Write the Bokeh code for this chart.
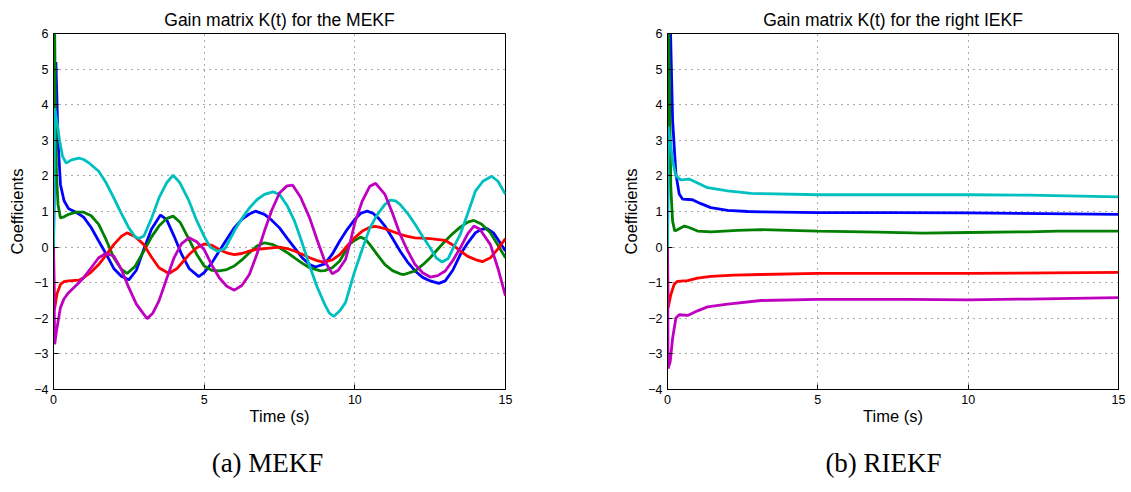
from bokeh.plotting import figure
from bokeh.layouts import row, column
from bokeh.models import Range1d, FixedTicker, Label
from bokeh.embed import file_html
from bokeh.resources import INLINE

# ---------------- data: MEKF ----------------
mekf_blue_t = [0, 0.08, 0.15, 0.23, 0.35, 0.5, 0.75, 1.0, 1.25, 1.5, 1.75, 2.0, 2.25, 2.5, 2.75, 3.0, 3.25, 3.55,
               3.75, 4.0, 4.25, 4.5, 4.82, 5.0, 5.25, 5.5, 5.75, 6.0, 6.25, 6.5, 6.7, 7.0, 7.25, 7.5, 7.75, 8.0, 8.25,
               8.5, 8.69, 9.0, 9.25, 9.5, 9.75, 10.0, 10.2, 10.41, 10.6, 10.8, 11.0, 11.25, 11.5, 11.75, 12.0, 12.25,
               12.5, 12.79, 13.0, 13.25, 13.5, 13.75, 14.0, 14.2, 14.39, 14.6, 14.8, 15.0]
mekf_blue_y = [0, 5.2, 3.0, 1.76, 1.3, 1.08, 0.98, 0.84, 0.55, 0.17, -0.2, -0.6, -0.82, -0.92, -0.65, -0.05, 0.5, 0.9,
               0.78, 0.31, -0.2, -0.6, -0.83, -0.72, -0.45, -0.11, 0.22, 0.54, 0.78, 0.93, 1.01, 0.92, 0.75, 0.54,
               0.25, -0.02, -0.3, -0.49, -0.56, -0.47, -0.2, 0.17, 0.5, 0.78, 0.95, 1.01, 0.95, 0.8, 0.59, 0.25,
               -0.11, -0.42, -0.67, -0.85, -0.95, -1.02, -0.95, -0.65, -0.21, 0.12, 0.4, 0.5, 0.52, 0.4, 0.15, -0.11]

mekf_green_t = [0, 0.02, 0.06, 0.1, 0.15, 0.23, 0.35, 0.5, 0.75, 1.0, 1.25, 1.5, 1.75, 2.0, 2.25, 2.44, 2.7, 3.0,
                3.25, 3.5, 3.75, 3.97, 4.2, 4.5, 4.75, 5.0, 5.25, 5.5, 5.75, 6.0, 6.25, 6.5, 6.75, 7.0, 7.25, 7.5,
                7.75, 8.0, 8.25, 8.5, 8.86, 9.0, 9.25, 9.5, 9.69, 9.85, 10.0, 10.19, 10.35, 10.5, 10.75, 11.0, 11.25,
                11.5, 11.63, 12.0, 12.25, 12.5, 12.75, 13.0, 13.25, 13.5, 13.75, 13.95, 14.2, 14.5, 14.75, 15.0]
mekf_green_y = [0, 8.0, 4.0, 2.0, 1.2, 0.82, 0.85, 0.92, 0.98, 0.98, 0.88, 0.64, 0.2, -0.3, -0.62, -0.74, -0.55,
                -0.11, 0.28, 0.59, 0.8, 0.87, 0.7, 0.21, -0.2, -0.53, -0.65, -0.67, -0.63, -0.53, -0.36, -0.16, 0.03,
                0.12, 0.08, -0.02, -0.15, -0.3, -0.45, -0.58, -0.67, -0.66, -0.58, -0.39, -0.11, 0.1, 0.19, 0.28,
                0.22, 0.07, -0.22, -0.49, -0.66, -0.75, -0.77, -0.67, -0.5, -0.3, -0.06, 0.17, 0.38, 0.56, 0.7, 0.75,
                0.65, 0.4, 0.05, -0.3]

mekf_red_t = [0, 0.03, 0.12, 0.23, 0.35, 0.5, 0.84, 1.0, 1.25, 1.5, 1.75, 2.0, 2.25, 2.44, 2.7, 3.0, 3.25, 3.5,
              3.83, 4.1, 4.5, 4.75, 5.0, 5.25, 5.5, 5.75, 6.0, 6.25, 6.5, 6.75, 7.0, 7.5, 7.75, 8.0, 8.25, 8.5, 8.75,
              8.97, 9.25, 9.5, 9.69, 9.85, 10.0, 10.25, 10.5, 10.69, 11.0, 11.25, 11.5, 11.75, 12.0, 12.5, 13.0,
              13.25, 13.5, 13.75, 14.0, 14.23, 14.5, 14.75, 15.0]
mekf_red_y = [0, -1.75, -1.3, -1.05, -0.97, -0.95, -0.93, -0.86, -0.7, -0.49, -0.22, 0.07, 0.3, 0.4, 0.3, 0.07, -0.28,
              -0.58, -0.74, -0.6, -0.21, -0.02, 0.09, 0.05, -0.07, -0.16, -0.21, -0.18, -0.11, -0.06, -0.04, 0.0,
              -0.04, -0.11, -0.2, -0.3, -0.38, -0.42, -0.36, -0.21, -0.02, 0.13, 0.27, 0.45, 0.56, 0.58, 0.52, 0.44,
              0.36, 0.3, 0.26, 0.24, 0.19, 0.06, -0.11, -0.26, -0.35, -0.41, -0.3, -0.05, 0.24]

mekf_cyan_t = [0, 0.04, 0.1, 0.2, 0.3, 0.42, 0.6, 0.84, 1.0, 1.2, 1.5, 1.75, 2.0, 2.25, 2.5, 2.7, 2.83, 3.0, 3.25,
               3.5, 3.75, 3.97, 4.2, 4.5, 4.75, 5.0, 5.2, 5.45, 5.7, 6.0, 6.25, 6.5, 6.75, 7.0, 7.28, 7.5, 7.75, 8.0,
               8.25, 8.5, 8.75, 9.0, 9.15, 9.3, 9.5, 9.69, 9.85, 10.0, 10.25, 10.5, 10.75, 11.0, 11.18, 11.35, 11.5,
               11.75, 12.0, 12.25, 12.5, 12.7, 12.9, 13.1, 13.25, 13.5, 13.75, 14.0, 14.25, 14.54, 14.75, 15.0]
mekf_cyan_y = [0, 3.9, 3.6, 3.0, 2.55, 2.36, 2.45, 2.5, 2.46, 2.35, 2.13, 1.8, 1.38, 0.95, 0.54, 0.3, 0.24, 0.31, 0.8,
               1.38, 1.8, 2.02, 1.8, 1.29, 0.75, 0.3, 0.0, -0.12, -0.03, 0.45, 0.8, 1.1, 1.33, 1.48, 1.55, 1.48, 1.17,
               0.73, 0.12, -0.53, -1.12, -1.61, -1.85, -1.95, -1.79, -1.56, -1.1, -0.67, -0.05, 0.54, 0.92, 1.2,
               1.32, 1.3, 1.2, 0.95, 0.64, 0.3, -0.02, -0.3, -0.42, -0.32, -0.05, 0.36, 0.95, 1.57, 1.85, 1.99, 1.85,
               1.48]

mekf_magenta_t = [0, 0.04, 0.1, 0.23, 0.35, 0.5, 0.75, 1.0, 1.25, 1.5, 1.73, 2.0, 2.25, 2.5, 2.75, 3.0, 3.11, 3.3,
                  3.5, 3.75, 4.0, 4.25, 4.5, 4.75, 5.0, 5.25, 5.5, 5.75, 6.0, 6.25, 6.5, 6.75, 7.0, 7.25, 7.5, 7.75,
                  7.94, 8.2, 8.5, 8.75, 9.0, 9.25, 9.45, 9.69, 9.85, 10.0, 10.25, 10.5, 10.69, 11.0, 11.25, 11.5, 11.75,
                  12.0, 12.25, 12.5, 12.75, 13.0, 13.25, 13.5, 13.75, 13.95, 14.15, 14.5, 14.75, 15.0]
mekf_magenta_y = [0, -2.73, -2.35, -1.7, -1.45, -1.28, -1.08, -0.86, -0.58, -0.3, -0.18, -0.25, -0.62, -1.14, -1.6,
                  -1.89, -2.01, -1.85, -1.51, -0.9, -0.3, 0.1, 0.26, 0.15, -0.07, -0.5, -0.86, -1.1, -1.21, -1.08,
                  -0.77, -0.2, 0.45, 1.05, 1.52, 1.72, 1.74, 1.4, 0.82, 0.2, -0.39, -0.75, -0.65, -0.35, 0.15, 0.68,
                  1.3, 1.71, 1.79, 1.48, 0.95, 0.36, -0.1, -0.49, -0.72, -0.84, -0.8, -0.67, -0.38, -0.02, 0.38, 0.59,
                  0.5, 0.07, -0.6, -1.37]

# ---------------- data: right IEKF ----------------
riekf_blue_t = [0, 0.06, 0.17, 0.28, 0.39, 0.5, 0.83, 1.11, 1.44, 2.0, 2.67, 3.11, 5.0, 7.5, 10.0, 12.5, 15.0]
riekf_blue_y = [0, 7.5, 3.56, 2.05, 1.49, 1.35, 1.33, 1.22, 1.11, 1.03, 1.0, 0.99, 0.97, 0.97, 0.96, 0.94, 0.92]

riekf_green_t = [0, 0.02, 0.11, 0.17, 0.24, 0.33, 0.56, 0.72, 1.0, 1.44, 2.33, 3.11, 5.0, 7.0, 8.5, 10.0, 12.0, 13.0,
                 15.0]
riekf_green_y = [0, 7.5, 1.67, 0.73, 0.45, 0.49, 0.59, 0.55, 0.45, 0.43, 0.47, 0.49, 0.45, 0.42, 0.39, 0.41, 0.43,
                 0.45, 0.45]

riekf_red_t = [0, 0.02, 0.11, 0.22, 0.33, 0.67, 1.0, 1.44, 2.22, 3.11, 5.0, 10.0, 15.0]
riekf_red_y = [0, -1.71, -1.34, -1.05, -0.96, -0.94, -0.87, -0.82, -0.79, -0.77, -0.74, -0.74, -0.71]

riekf_cyan_t = [0, 0.03, 0.17, 0.28, 0.44, 0.72, 1.0, 1.33, 2.0, 2.78, 3.11, 5.0, 10.0, 12.0, 15.0]
riekf_cyan_y = [0, 3.39, 2.43, 2.0, 1.89, 1.91, 1.8, 1.67, 1.58, 1.51, 1.5, 1.47, 1.47, 1.46, 1.41]

riekf_magenta_t = [0, 0.02, 0.09, 0.17, 0.28, 0.39, 0.67, 1.0, 1.33, 2.0, 3.11, 5.0, 8.0, 10.0, 12.0, 15.0]
riekf_magenta_y = [0, -3.41, -3.22, -2.56, -1.99, -1.9, -1.92, -1.79, -1.68, -1.6, -1.5, -1.47, -1.47, -1.48, -1.46,
                   -1.42]

x_ticks = [0, 5, 10, 15]
y_ticks = [-4, -3, -2, -1, 0, 1, 2, 3, 4, 5, 6]
y_tick_labels = {t: (("\u2212" + str(-t)) if t < 0 else str(t)) for t in y_ticks}

titles = ["Gain matrix K(t) for the MEKF", "Gain matrix K(t) for the right IEKF"]
captions = ["(a) MEKF", "(b) RIEKF"]

COLORS = ["#0000ff", "#008000", "#ff0000", "#00bfbf", "#bf00bf"]
FONT = "Liberation Sans"

FRAME_H = 356
TOP = 33
BOTTOM = 48


def make_fig(title, series, width, border_left, frame_w):
    p = figure(width=width, height=TOP + FRAME_H + BOTTOM, output_backend="svg", toolbar_location=None,
               x_range=Range1d(0, 15), y_range=Range1d(-4, 6),
               min_border_left=border_left, min_border_right=width - border_left - frame_w,
               min_border_top=TOP, min_border_bottom=BOTTOM)
    p.title.text = title
    p.title.align = "center"
    p.title.text_font = FONT
    p.title.text_font_size = "17.5px"
    p.title.text_font_style = "normal"
    p.title.text_color = "black"
    p.title.standoff = 8
    p.outline_line_color = "black"
    p.outline_line_width = 1
    p.outline_line_alpha = 1

    for ax in (p.xaxis[0], p.yaxis[0]):
        ax.axis_line_color = "black"
        ax.major_tick_line_color = "black"
        ax.major_tick_in = 5
        ax.major_tick_out = 0
        ax.minor_tick_line_color = None
        ax.major_label_text_font = FONT
        ax.major_label_text_font_size = "12.5px"
        ax.major_label_text_color = "black"
        ax.axis_label_text_font = FONT
        ax.axis_label_text_font_size = "16.5px"
        ax.axis_label_text_font_style = "normal"
        ax.axis_label_text_color = "black"
        ax.major_label_standoff = 5
    p.xaxis[0].ticker = FixedTicker(ticks=x_ticks)
    p.yaxis[0].ticker = FixedTicker(ticks=y_ticks)
    p.yaxis[0].major_label_overrides = y_tick_labels
    p.xaxis[0].axis_label = "Time (s)"
    p.yaxis[0].axis_label = "Coefficients"
    p.xaxis[0].axis_label_standoff = 0
    p.yaxis[0].axis_label_standoff = 5

    p.xgrid.ticker = FixedTicker(ticks=x_ticks)
    p.ygrid.ticker = FixedTicker(ticks=y_ticks)
    for g in (p.xgrid[0], p.ygrid[0]):
        g.grid_line_color = "#555555"
        g.grid_line_dash = "1 5"
        g.grid_line_width = 1

    for (t, y), c in zip(series, COLORS):
        p.line(t, y, line_color=c, line_width=2.8)
    return p


W1, W2 = 580, 545
p1 = make_fig(titles[0],
              [(mekf_blue_t, mekf_blue_y), (mekf_green_t, mekf_green_y), (mekf_red_t, mekf_red_y),
               (mekf_cyan_t, mekf_cyan_y), (mekf_magenta_t, mekf_magenta_y)],
              width=W1, border_left=53, frame_w=452)
p2 = make_fig(titles[1],
              [(riekf_blue_t, riekf_blue_y), (riekf_green_t, riekf_green_y), (riekf_red_t, riekf_red_y),
               (riekf_cyan_t, riekf_cyan_y), (riekf_magenta_t, riekf_magenta_y)],
              width=W2, border_left=87, frame_w=451)

# caption strip (sub-figure captions)
CAP_H = 50
pc = figure(width=W1 + W2, height=CAP_H, output_backend="svg", toolbar_location=None,
            x_range=Range1d(0, W1 + W2), y_range=Range1d(0, CAP_H),
            x_axis_location=None, y_axis_location=None, min_border=0)
pc.outline_line_color = None
pc.xgrid.visible = False
pc.ygrid.visible = False
for cx, txt in zip([267, 883], captions):
    pc.add_layout(Label(x=cx, y=CAP_H - 25, text=txt, text_align="center", text_baseline="middle",
                        text_font="Liberation Serif", text_font_size="27px", text_color="black"))

layout = column(row(p1, p2), pc)
open("out.html", "w").write(file_html(layout, INLINE))
